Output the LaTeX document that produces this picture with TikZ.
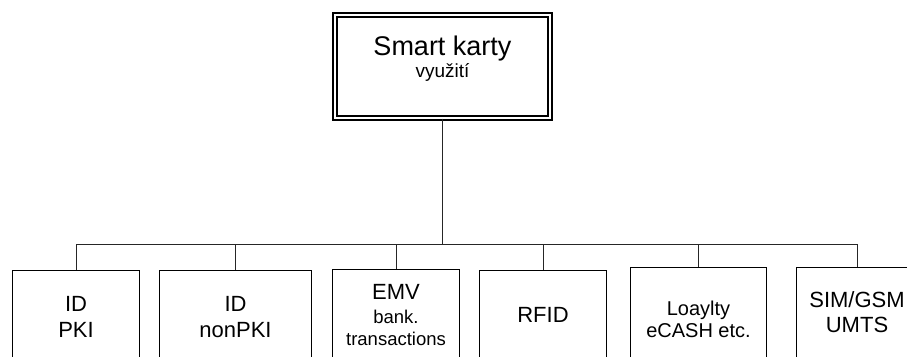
\documentclass[tikz,border=0pt]{standalone}
\usepackage{fontspec}
\setmainfont{Liberation Sans}
\begin{document}
\begin{tikzpicture}[x=1pt,y=-1pt,
  card/.style={draw, line width=1.3pt, rectangle, anchor=north, inner sep=0pt, minimum height=110pt},
  rootbox/.style={draw, line width=1.3pt, double, double distance=2.6pt, rectangle, inner sep=0pt,
                  minimum width=215pt, minimum height=103pt},
  wire/.style={line width=0.9pt, draw=black!85},
  txt/.style={anchor=base, inner sep=0pt, font=\fontsize{#1}{#1}\selectfont}
]
\useasboundingbox (0,0) rectangle (907,356);
\clip (0,0) rectangle (907,356);

% root of the tree
\node[rootbox] (root) at (442.5,66.5) {};
\node[txt=27] (rootA) at (442.5,55) {Smart karty};
\node[txt=19] (rootB) at (442.5,77.5) {využití};

% the six application cards
\node[card, minimum width=127pt] (b1) at (76,269.6) {};
\node[card, minimum width=152pt] (b2) at (235.5,269.6) {};
\node[card, minimum width=127pt] (b3) at (396,268.6) {};
\node[card, minimum width=127pt] (b4) at (543,269.6) {};
\node[card, minimum width=136pt] (b5) at (698.5,266.6) {};
\node[card, minimum width=121pt] (b6) at (857,266.6) {};

% card labels
\node[txt=22] (t1a) at (76,311) {ID};
\node[txt=22] (t1b) at (76,337) {PKI};
\node[txt=22] (t2a) at (235.5,311) {ID};
\node[txt=22] (t2b) at (235.5,337) {nonPKI};
\node[txt=22] (t3a) at (396,299) {EMV};
\node[txt=18.5] (t3b) at (396,323.5) {bank.};
\node[txt=18.5] (t3c) at (396,345) {transactions};
\node[txt=22] (t4a) at (543,322) {RFID};
\node[txt=20] (t5a) at (698.5,315) {Loaylty};
\node[txt=20] (t5b) at (698.5,337) {eCASH etc.};
\node[txt=22] (t6a) at (857,307) {SIM/GSM};
\node[txt=22] (t6b) at (857,332) {UMTS};

% connectors: trunk, bus and drops
\coordinate (bus) at (0,244);
\draw[wire] (root.south) -- (root.south |- bus);
\draw[wire] (b1.north |- bus) -- (b6.north |- bus);
\foreach \b in {b1,b2,b3,b4,b5,b6}
  \draw[wire] (\b.north |- bus) -- (\b.north);
\end{tikzpicture}
\end{document}
